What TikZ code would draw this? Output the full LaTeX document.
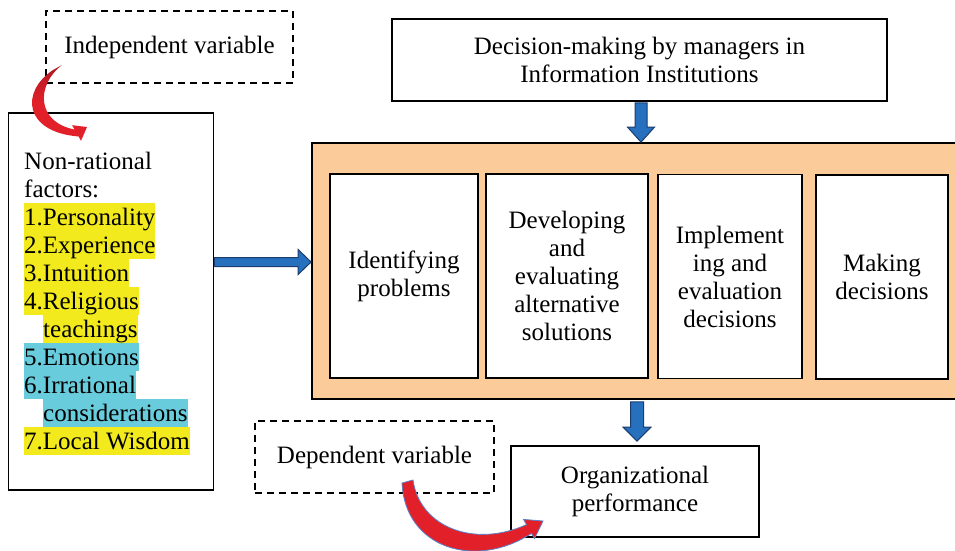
\documentclass[tikz,border=0pt]{standalone}
\usepackage{fontspec}
\setmainfont{Liberation Serif}
\usetikzlibrary{calc}
\definecolor{peach}{RGB}{251,203,154}
\definecolor{hlyellow}{RGB}{242,234,28}
\definecolor{hlcyan}{RGB}{104,204,220}
\definecolor{arrowblue}{RGB}{38,112,190}
\definecolor{arrowedge}{RGB}{28,60,110}
\definecolor{curvered}{RGB}{226,32,42}
\definecolor{curvedark}{RGB}{175,25,35}
\definecolor{curveedge}{RGB}{90,130,200}

\begin{document}
\begin{tikzpicture}[x=1pt,y=-1pt,
  txt/.style={font=\fontsize{25}{28}\selectfont},
  plainbox/.style={draw=black, line width=1.8pt, fill=white, inner sep=0pt, align=center, txt},
  varbox/.style={draw=black, line width=1.8pt, dash pattern=on 7pt off 5pt, inner sep=0pt, align=center, txt},
  stagebox/.style={plainbox, minimum height=204pt},
  hl/.style={anchor=base west, inner sep=0pt, text height=22pt, text depth=6pt, txt},
  blockarrow/.style={fill=arrowblue, draw=arrowedge, line width=1pt, line join=miter},
  curvearrow/.style={fill=curvered, draw=curveedge, line width=0.8pt}
]
\useasboundingbox (0,0) rectangle (955,550);
\clip (0,0) rectangle (955,550);

% variable labels
\node[varbox, minimum width=247pt, minimum height=72pt] (indep) at (169.5,47) {Independent variable};
\node[varbox, minimum width=239pt, minimum height=72pt] (dep) at (374.5,457) {Dependent variable};

% non-rational factors
\node[plainbox, minimum width=205pt, minimum height=377pt] (factors) at (111,301.5) {};
\node[hl] (f1) at (24,169) {Non-rational};
\node[hl] (f2) at (24,197) {factors:};
\node[hl, fill=hlyellow] (f3) at (24,225) {1.Personality};
\node[hl, fill=hlyellow] (f4) at (24,253) {2.Experience};
\node[hl, fill=hlyellow] (f5) at (24,281) {3.Intuition};
\node[hl, fill=hlyellow] (f6) at (24,309) {4.Religious};
\node[hl, fill=hlyellow] (f7) at (43,337) {teachings};
\node[hl, fill=hlcyan] (f8) at (24,365) {5.Emotions};
\node[hl, fill=hlcyan] (f9) at (24,393) {6.Irrational};
\node[hl, fill=hlcyan] (f10) at (43,421) {considerations};
\node[hl, fill=hlyellow] (f11) at (24,449) {7.Local Wisdom};

% decision process
\node[plainbox, minimum width=495pt, minimum height=82pt] (decision) at (639.5,60)
  {Decision-making by managers in\\Information Institutions};
\node[plainbox, fill=peach, minimum width=658pt, minimum height=256pt] (stages) at (641,271) {};
\node[stagebox, minimum width=148pt] (s1) at (404,276) {Identifying\\problems};
\node[stagebox, minimum width=162pt] (s2) at (567,276) {Developing\\and\\evaluating\\alternative\\solutions};
\node[stagebox, minimum width=144pt] (s3) at (730,276.5) {Implement\\ing and\\evaluation\\decisions};
\node[stagebox, minimum width=132pt] (s4) at (882,277) {Making\\decisions};

% outcome
\node[plainbox, minimum width=248pt, minimum height=91pt] (org) at (635,491.5)
  {Organizational\\performance};

% block arrow: factors -> stages
\coordinate (hs) at (factors.east |- 0,262);
\coordinate (he) at (stages.west |- hs);
\draw[blockarrow] ($(hs)+(0,-4.5)$) -- ($(he)+(-13,-4.5)$) -- ($(he)+(-13,-12.5)$) -- (he)
  -- ($(he)+(-13,12.5)$) -- ($(he)+(-13,4.5)$) -- ($(hs)+(0,4.5)$) -- cycle;

% block arrow: decision -> stages
\coordinate (da) at ($(decision.south)+(1.5,1)$);
\coordinate (db) at (stages.north -| da);
\draw[blockarrow] ($(da)+(-6,0)$) -- ($(db)+(-6,-15)$) -- ($(db)+(-13.5,-15)$) -- (db)
  -- ($(db)+(13.5,-15)$) -- ($(db)+(6,-15)$) -- ($(da)+(6,0)$) -- cycle;

% block arrow: stages -> organizational performance
\coordinate (ea) at ($(stages.south)+(-4,2)$);
\coordinate (eb) at ($(org.north)+(2,-4)$);
\draw[blockarrow] ($(ea)+(-6.5,0)$) -- ($(eb)+(-6.5,-14)$) -- ($(eb)+(-14,-14)$) -- (eb)
  -- ($(eb)+(14,-14)$) -- ($(eb)+(6.5,-14)$) -- ($(ea)+(6.5,0)$) -- cycle;

% curved arrow: independent variable -> factors (shaded, darker at the top)
\shade[top color=curvedark, bottom color=curvered, middle color=curvered]
  (53,70) -- (62,65) .. controls (36,85) and (36,122) .. (74.6,129.5)
  -- (72.1,125.2) -- (87,127) -- (81,140.8) -- (78.6,136.5)
  .. controls (24,132) and (20,92) .. (53,70) -- cycle;

% curved arrow: dependent variable -> organizational performance
\draw[curvearrow] (402,483) -- (413,480) .. controls (420,528) and (475,548) .. (526.5,524.6)
  -- (523.5,519.4) -- (543,521) -- (534.5,538.6) -- (531.5,533.4)
  .. controls (475,570) and (405,548) .. (402,483) -- cycle;
\end{tikzpicture}
\end{document}
